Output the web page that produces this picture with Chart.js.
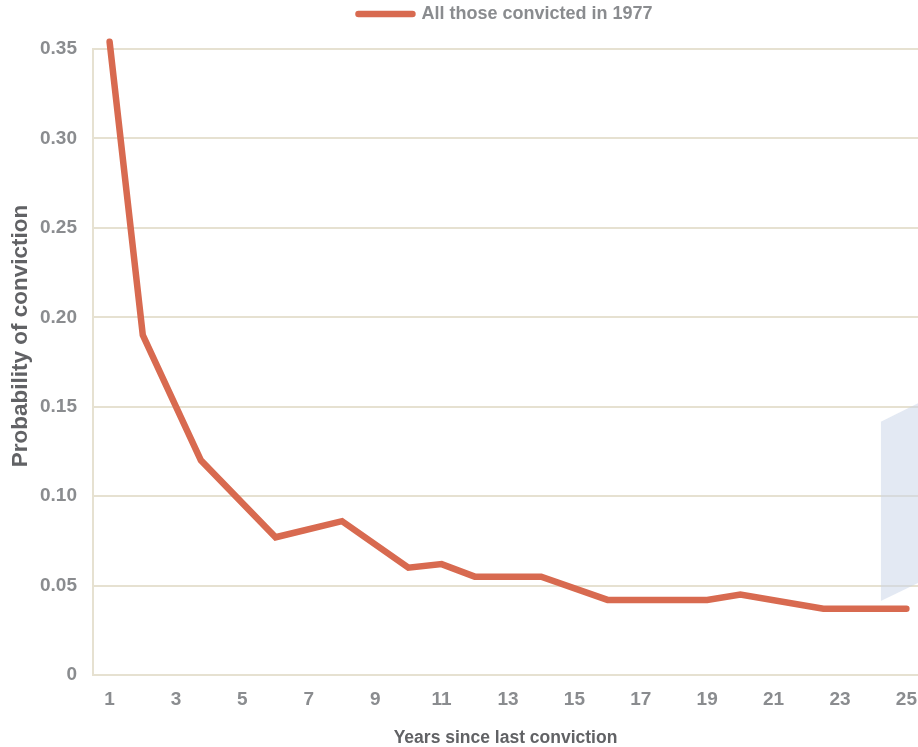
<!DOCTYPE html>
<html>
<head>
<meta charset="utf-8">
<title>Probability of conviction</title>
<script src="https://cdn.jsdelivr.net/npm/chart.js@4.4.1/dist/chart.umd.min.js"></script>
<style>
    html, body { margin: 0; padding: 0; background: #ffffff; }
    #wrap { width: 918px; height: 747px; position: relative; }
</style>
</head>
<body>
<div id="wrap"><canvas id="conviction-chart"></canvas></div>
<script>
// Years since last conviction (x) and probability of a new conviction (y)
const years = [1, 2, 3.75, 6, 8, 10, 11, 12, 14, 16, 19, 20, 22.5, 25];
const probability = [0.354, 0.19, 0.12, 0.077, 0.086, 0.06, 0.062, 0.055, 0.055, 0.042, 0.042, 0.045, 0.037, 0.037];

// Pale band cut off at the right edge of the picture
const bandYears = [24.23, 25.35];
const bandTop = [0.1416, 0.152];
const bandBottom = [0.0414, 0.0514];

// Tick labels
const xTicks = [1, 3, 5, 7, 9, 11, 13, 15, 17, 19, 21, 23, 25];
const yTicks = [0, 0.05, 0.10, 0.15, 0.20, 0.25, 0.30, 0.35];

const COLORS = {
    line: '#d86a50',
    grid: '#e6e1d1',
    band: 'rgba(200, 212, 232, 0.5)',
    tick: '#8a8c8f',
    title: '#616265'
};

const FONT = "'Liberation Sans', Arial, sans-serif";

const toPoints = (xs, ys) => xs.map((x, i) => ({ x: x, y: ys[i] }));

// Y axis title, placed a little above the middle of the plot like the original
const yTitlePlugin = {
    id: 'yTitle',
    afterDraw(chart) {
        const { ctx, chartArea } = chart;
        ctx.save();
        ctx.translate(20.5, (chartArea.top + chartArea.bottom) / 2 - 26);
        ctx.rotate(-Math.PI / 2);
        ctx.font = 'bold 22.5px ' + FONT;
        ctx.fillStyle = COLORS.title;
        ctx.textAlign = 'center';
        ctx.textBaseline = 'middle';
        ctx.fillText('Probability of conviction', 0, 0);
        ctx.restore();
    }
};

const canvas = document.getElementById('conviction-chart');

new Chart(canvas.getContext('2d'), {
    type: 'line',
    data: {
        datasets: [
            {
                label: 'All those convicted in 1977',
                data: toPoints(years, probability),
                borderColor: COLORS.line,
                backgroundColor: COLORS.line,
                borderWidth: 6.5,
                borderCapStyle: 'round',
                pointRadius: 0,
                pointStyle: 'line',
                tension: 0,
                fill: false,
                clip: false,
                order: 0
            },
            {
                label: 'band-top',
                data: toPoints(bandYears, bandTop),
                borderWidth: 0,
                borderColor: 'transparent',
                pointRadius: 0,
                fill: false,
                order: 2
            },
            {
                label: 'band-bottom',
                data: toPoints(bandYears, bandBottom),
                borderWidth: 0,
                borderColor: 'transparent',
                backgroundColor: COLORS.band,
                pointRadius: 0,
                fill: '-1',
                order: 1
            }
        ]
    },
    options: {
        responsive: true,
        maintainAspectRatio: false,
        animation: false,
        events: [],
        layout: { padding: 0 },
        plugins: {
            tooltip: { enabled: false },
            legend: {
                display: true,
                position: 'top',
                fullSize: false,
                labels: {
                    filter: item => item.datasetIndex === 0,
                    generateLabels: chart => {
                        const items = Chart.defaults.plugins.legend.labels.generateLabels(chart);
                        items.forEach(item => { item.lineCap = 'round'; });
                        return items;
                    },
                    usePointStyle: true,
                    pointStyle: 'line',
                    pointStyleWidth: 54,
                    padding: 5,
                    color: COLORS.tick,
                    font: { family: FONT, size: 18, weight: 'bold' }
                }
            }
        },
        scales: {
            x: {
                type: 'linear',
                position: 'bottom',
                min: 0.5,
                max: 25.35,
                afterBuildTicks: scale => {
                    scale.ticks = xTicks.map(v => ({ value: v }));
                },
                afterFit: scale => {
                    scale.height = 72;
                    scale.paddingLeft = 0;
                    scale.paddingRight = 0;
                },
                grid: { display: false, drawTicks: false },
                border: { display: false },
                ticks: {
                    autoSkip: false,
                    maxRotation: 0,
                    padding: 13,
                    color: COLORS.tick,
                    font: { family: FONT, size: 19, weight: 'bold' },
                    callback: value => String(value)
                },
                title: {
                    display: true,
                    text: 'Years since last conviction',
                    color: COLORS.title,
                    padding: { top: 0, bottom: 0 },
                    font: { family: FONT, size: 17.5, weight: 'bold', lineHeight: 1 }
                }
            },
            spacer: {
                type: 'linear',
                position: 'top',
                display: true,
                afterFit: scale => { scale.height = 16; },
                grid: { display: false, drawTicks: false },
                border: { display: false },
                ticks: { display: false }
            },
            y: {
                min: 0,
                max: 0.35,
                afterBuildTicks: scale => {
                    scale.ticks = yTicks.map(v => ({ value: v }));
                },
                afterFit: scale => { scale.width = 93; },
                grid: {
                    color: COLORS.grid,
                    lineWidth: 2,
                    drawTicks: false
                },
                border: { display: true, color: COLORS.grid, width: 2 },
                ticks: {
                    padding: 16,
                    color: COLORS.tick,
                    font: { family: FONT, size: 19, weight: 'bold' },
                    callback: value => value === 0 ? '0' : value.toFixed(2)
                }
            }
        }
    },
    plugins: [yTitlePlugin]
});
</script>
</body>
</html>
